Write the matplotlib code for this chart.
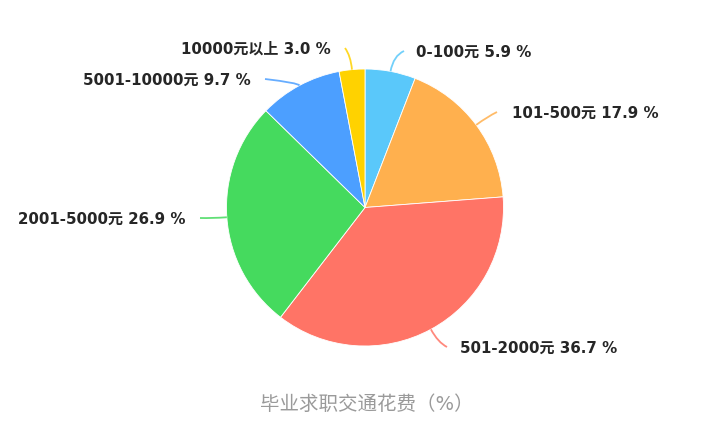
import numpy as np
import matplotlib
matplotlib.use("Agg")
import matplotlib.pyplot as plt
from matplotlib.path import Path
from matplotlib.patches import PathPatch

plt.rcParams['font.family'] = ['DejaVu Sans', 'Noto Sans CJK SC']

# data
categories = ['0-100元', '101-500元', '501-2000元', '2001-5000元', '5001-10000元', '10000元以上']
shares = [5.9, 17.9, 36.7, 26.9, 9.7, 3.0]
colors = ['#5AC8FA', '#FFB04E', '#FF7466', '#45DA5E', '#4C9FFF', '#FFD200']
title = '毕业求职交通花费（%）'

# layout (pixel coords, y from top)
W, H = 720, 423
cx, cy, R = 365, 207.5, 138.5
radial_len = [16, 14, 15, 15, 3, 14]
line_end = [(404, 51), (497, 112), (447, 347), (200, 218), (265, 79), (345, 48)]
text_gap = [13, 16, 14, 15, 15, 15]

fig = plt.figure(figsize=(W / 100, H / 100), dpi=100)
ax = fig.add_axes([0, 0, 1, 1])

wedges, _ = ax.pie(shares, colors=colors, startangle=90, counterclock=False,
                   center=(cx, H - cy), radius=R, normalize=True,
                   wedgeprops=dict(edgecolor='white', linewidth=0.6))
ax.set_xlim(0, W)
ax.set_ylim(0, H)
ax.set_aspect('equal')
ax.axis('off')

for w, cat, val, col, L, (ex, ey), gap in zip(wedges, categories, shares, colors,
                                               radial_len, line_end, text_gap):
    ang = np.deg2rad((w.theta1 + w.theta2) / 2)
    x0 = cx + R * np.cos(ang)
    y0 = (H - cy) + R * np.sin(ang)
    x1 = cx + (R + L) * np.cos(ang)
    y1 = (H - cy) + (R + L) * np.sin(ang)
    ex2, ey2 = ex, H - ey
    path = Path([(x0, y0), (x1, y1), (ex2, ey2)], [Path.MOVETO, Path.CURVE3, Path.CURVE3])
    ax.add_patch(PathPatch(path, facecolor='none', edgecolor=col, lw=1.3, alpha=0.85))
    lbl = f'{cat} {val:.1f} %'
    if ex2 >= x1:
        ax.text(ex2 + gap - 1, ey2 - 1.5, lbl, ha='left', va='center',
                fontsize=10.8, fontweight='bold', color='#262626')
    else:
        ax.text(ex2 - gap + 1, ey2 - 1.5, lbl, ha='right', va='center',
                fontsize=10.8, fontweight='bold', color='#262626')

ax.text(cx + 2, H - 404, title, ha='center', va='center', fontsize=14, color='#9a9a9a')

fig.savefig('out.png', dpi=100)
